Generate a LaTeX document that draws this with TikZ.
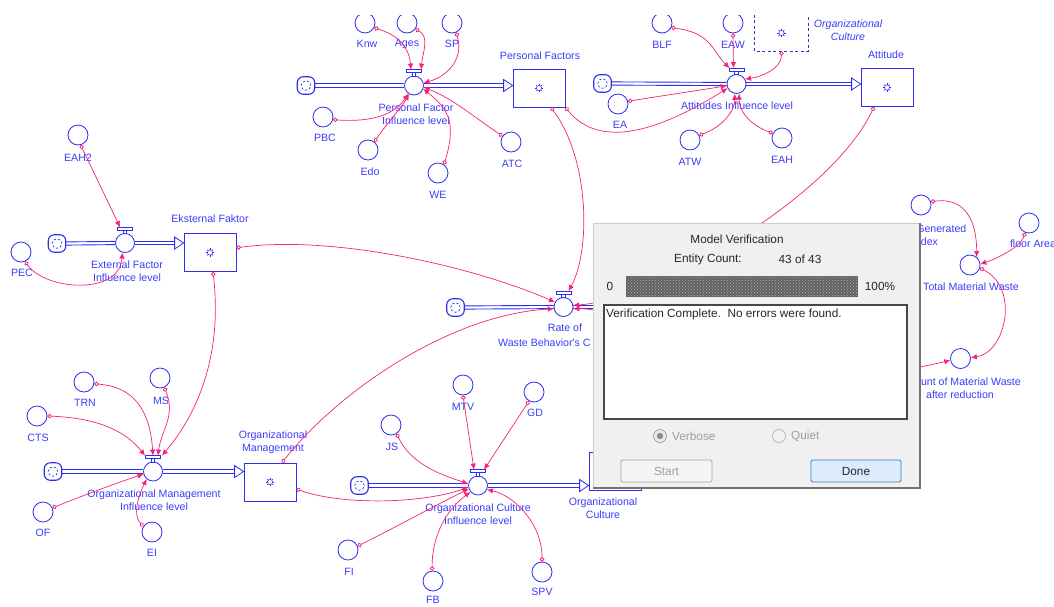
\documentclass[tikz,border=0pt]{standalone}
\usepackage{fontspec}
\setmainfont{Liberation Sans}
\newfontfamily\libsans{Liberation Sans}
\usetikzlibrary{arrows.meta,calc,patterns}
\definecolor{blueC}{RGB}{45,45,240}
\definecolor{blueL}{RGB}{60,60,250}
\definecolor{pinkC}{RGB}{245,35,120}
\definecolor{dlgbg}{RGB}{240,240,240}
\definecolor{btnblue}{RGB}{60,127,177}
\definecolor{btnfill}{RGB}{220,236,252}
\newcommand\lblfont{\libsans\fontsize{10.6pt}{13.5pt}\selectfont}
\newcommand\dlgfont{\libsans\fontsize{11.8pt}{14pt}\selectfont}
\tikzset{
  aux/.style={circle, draw=blueC, line width=0.8pt, minimum size=20pt, inner sep=0pt, fill=white},
  valve/.style={circle, draw=blueC, line width=0.8pt, minimum size=19pt, inner sep=0pt, fill=white},
  stocksym/.style={path picture={
      \coordinate (pp) at (path picture bounding box.center);
      \draw[blueC,line width=0.5pt] (pp) circle (2.6pt);
      \foreach \a in {0,45,...,315}{\draw[blueC,line width=0.5pt] ($(pp)+({2.6*cos(\a)},{2.6*sin(\a)})$) -- ($(pp)+({4.3*cos(\a)},{4.3*sin(\a)})$);}
  }},
  stock/.style={rectangle, draw=blueC, line width=0.8pt, minimum width=52pt, minimum height=38pt, inner sep=0pt, fill=white, stocksym},
  ghostbox/.style={rectangle, minimum width=53pt, minimum height=36pt, inner sep=0pt, stocksym},
  cloudn/.style={rectangle, rounded corners=6pt, draw=blueC, line width=1.1pt, minimum size=17.5pt, inner sep=0pt, fill=white,
     path picture={\draw[blueC,line width=0.7pt,dash pattern=on 2.2pt off 2pt] (path picture bounding box.center) circle (4.8pt);}},
  lbl/.style={text=blueL, font=\lblfont, align=center, inner sep=0pt},
  conn/.style={draw=pinkC, line width=0.7pt, arrows={Circle[open,length=4.5pt,width=4.5pt,line width=0.8pt]-Latex[length=6pt,width=5.5pt]}},
  pipeln/.style={draw=blueC, line width=0.9pt},
  dtxt/.style={text=black!85, font=\dlgfont, inner sep=0pt},
  dgray/.style={text=black!38, font=\dlgfont, inner sep=0pt},
}
\newcommand\mkhandle[1]{%
  \draw[blueC,line width=0.7pt,fill=white] ($(#1.north)+(-1.8,0.5)$) rectangle ($(#1.north)+(1.8,-3)$);
  \draw[blueC,line width=0.7pt,fill=white] ($(#1.north)+(-7.5,-3)$) rectangle ($(#1.north)+(7.5,-6)$);
  \coordinate (#1h) at ($(#1.north)+(0,-6)$);}
% double pipe between two named points
\newcommand\pipeline[2]{%
  \draw[pipeln] ($(#1)+(0,-1.6)$) -- ($(#2)+(0,-1.6)$);
  \draw[pipeln] ($(#1)+(0,1.6)$) -- ($(#2)+(0,1.6)$);}
\newcommand\mkflow[3]{%
  \coordinate (#3in) at (#3.west |- #2.east);
  \coordinate (#3pe) at ($(#3in)+(-8,0)$);
  \pipeline{#1.east}{#2.west}
  \pipeline{#2.east}{#3pe}
  \draw[blueC,line width=0.8pt,fill=white] ($(#3in)+(-9,-6)$) -- (#3in) -- ($(#3in)+(-9,6)$) -- cycle;}
\begin{document}
\begin{tikzpicture}[x=1pt,y=-1pt]
\useasboundingbox (0,0) rectangle (1054,606);
\fill[white] (0,0) rectangle (1054,606);
\begin{scope}
\clip (0,15) rectangle (1054,606);
% ---------- clouds, valves, stocks
\node[cloudn] (cpf) at (306,85.5) {};
\node[cloudn] (cat) at (602.5,83.5) {};
\node[cloudn] (cex) at (57,243.5) {};
\node[cloudn] (crw) at (455.5,307.5) {};
\node[cloudn] (com) at (53,471.5) {};
\node[cloudn] (coc) at (359.5,485.5) {};
\node[valve] (pfv) at (414,85.5) {};
\node[valve] (atv) at (736.5,84) {};
\node[valve] (efv) at (125,243) {};
\node[valve] (rwv) at (563.5,307) {};
\node[valve] (omv) at (153,471.5) {};
\node[valve] (ocv) at (478,485.5) {};
\node[stock] (pfs) at (539,88) {};
\node[stock] (att) at (887,87.5) {};
\node[stock] (eks) at (210,252.5) {};
\node[stock] (orgm) at (270,482) {};
\node[stock] (orgc) at (615,471) {};
\node[ghostbox] (ghost) at (781.5,33) {};
\draw[blueC,line width=0.8pt,dash pattern=on 3pt off 2.5pt] (ghost.north west) -- (ghost.south west) -- (ghost.south east) -- (ghost.north east);
% flows
\mkflow{cpf}{pfv}{pfs}
\mkflow{cat}{atv}{att}
\mkflow{cex}{efv}{eks}
\mkflow{com}{omv}{orgm}
\mkflow{coc}{ocv}{orgc}
\pipeline{crw.east}{rwv.west}
\coordinate (rwout) at (650,307);
\pipeline{rwv.east}{rwout}
\mkhandle{pfv}\mkhandle{atv}\mkhandle{efv}\mkhandle{rwv}\mkhandle{omv}\mkhandle{ocv}
% ---------- auxiliaries
\node[aux] (knw) at (365,23) {};
\node[aux] (ages) at (407,23) {};
\node[aux] (sp) at (452,23) {};
\node[aux] (pbc) at (323,117) {};
\node[aux] (edo) at (368,150) {};
\node[aux] (we) at (438,173) {};
\node[aux] (atc) at (511,142) {};
\node[aux] (blf) at (662,23) {};
\node[aux] (eaw) at (733,23) {};
\node[aux] (ea) at (618,104) {};
\node[aux] (atw) at (690,140) {};
\node[aux] (eah) at (782,138) {};
\node[aux] (eah2) at (78,135) {};
\node[aux] (pec) at (21,252) {};
\node[aux] (trn) at (84,382) {};
\node[aux] (ms) at (160,378) {};
\node[aux] (cts) at (37,416) {};
\node[aux] (of) at (43,512) {};
\node[aux] (ei) at (152,532) {};
\node[aux] (mtv) at (463,385) {};
\node[aux] (gd) at (534,392) {};
\node[aux] (js) at (391,425) {};
\node[aux] (fi) at (348,550) {};
\node[aux] (fb) at (433,581) {};
\node[aux] (spv) at (542,572) {};
\node[aux] (wgi) at (921,205) {};
\node[aux] (flr) at (1029,223) {};
\node[aux] (tmw) at (970,265) {};
\node[aux] (amw) at (960.5,358.5) {};
% ---------- labels
\node[lbl] (lknw) at (367,44) {Knw};
\node[lbl] (lages) at (407,44) {Ages};
\node[lbl] (lsp) at (452,44) {SP};
\node[lbl] (lpfv) at (416,114) {Personal Factor\\Influence level};
\node[lbl] (lpfs) at (540,56) {Personal Factors};
\node[lbl] (lpbc) at (325,138) {PBC};
\node[lbl] (ledo) at (370,172) {Edo};
\node[lbl] (lwe) at (438,195) {WE};
\node[lbl] (latc) at (512,164) {ATC};
\node[lbl] (lblf) at (662,45) {BLF};
\node[lbl] (leaw) at (733,45) {EAW};
\node[lbl,font=\lblfont\itshape] (lghost) at (848,30) {Organizational\\Culture};
\node[lbl] (latt) at (886,55) {Attitude};
\node[lbl] (latv) at (737,106) {Attitudes Influence level};
\node[lbl] (lea) at (620,125) {EA};
\node[lbl] (latw) at (690,162) {ATW};
\node[lbl] (leah) at (782,160) {EAH};
\node[lbl] (leah2) at (78,158) {EAH2};
\node[lbl] (lpec) at (22,273) {PEC};
\node[lbl] (lefv) at (127,271) {External Factor\\Influence level};
\node[lbl] (leks) at (210,219) {Eksternal Faktor};
\node[lbl] (lrw1) at (565,328) {Rate of};
\node[lbl,anchor=west] (lrw2) at (498,343) {Waste Behavior's C};
\node[lbl] (ltrn) at (85,403) {TRN};
\node[lbl] (lms) at (161,401) {MS};
\node[lbl] (lcts) at (38,438) {CTS};
\node[lbl] (lof) at (43,533) {OF};
\node[lbl] (lei) at (152,553) {EI};
\node[lbl] (lomv) at (154,500) {Organizational Management\\Influence level};
\node[lbl] (lorgm) at (273,442) {Organizational\\Management};
\node[lbl] (lmtv) at (463,407) {MTV};
\node[lbl] (lgd) at (535,413) {GD};
\node[lbl] (ljs) at (392,447) {JS};
\node[lbl] (lfi) at (349,572) {FI};
\node[lbl] (lfb) at (433,600) {FB};
\node[lbl] (lspv) at (542,592) {SPV};
\node[lbl] (locv) at (478,514) {Organizational Culture\\Influence level};
\node[lbl] (lorgc) at (603,508) {Organizational\\Culture};
\node[lbl] (lwgi) at (925,235) {Waste Generated\\Index};
\node[lbl] (lflr) at (1033,244) {floor Area};
\node[lbl] (ltmw) at (971,287) {Total Material Waste};
\node[lbl] (lamw) at (960,388) {Amount of Material Waste\\after reduction};
% ---------- connectors: personal factor
\draw[conn] (knw.-27) .. controls +(25,8) and +(-2,-22) .. ($(pfvh)+(-3,0)$);
\draw[conn] (ages.-35) .. controls +(14,8) and +(2,-18) .. ($(pfvh)+(7,0)$);
\draw[conn] (sp.-66) .. controls +(8,28) and +(22,-6) .. (pfv.15);
\draw[conn] (pbc.-15) .. controls +(45,3) and +(-12,18) .. (pfv.-125);
\draw[conn] (edo.52) .. controls +(10,-15) and +(-8,14) .. (pfv.-120);
\draw[conn] (we.55) .. controls +(14,-45) and +(22,18) .. (pfv.-20);
\draw[conn] (atc.145) .. controls +(-30,-20) and +(30,12) .. (pfv.-10);
% attitudes
\draw[conn] (blf.-27) .. controls +(40,5) and +(-18,-18) .. ($(atvh)+(-7,0)$);
\draw[conn] (eaw.south) -- ($(atvh)+(-3,0)$);
\draw[conn] (ghost.south) .. controls +(0,18) and +(15,-2) .. (atv.30);
\draw[conn] (ea.15) .. controls +(30,-5) and +(-30,5) .. (atv.-170);
\draw[conn] (pfs.south east) .. controls +(35,43) and +(-67,42) .. (atv.-155);
\draw[conn] (atw.27) .. controls +(22,-8) and +(0,18) .. (atv.-100);
\draw[conn] (eah.153) .. controls +(-22,-8) and +(0,18) .. (atv.-75);
% rate of waste behaviour
\draw[conn] (eks.10) .. controls +(94,-13) and +(-85,-37) .. (rwv.150);
\draw[conn] ($(orgm.north)+(12,0)$) .. controls +(58,-73) and +(-103,6) .. (rwv.-170);
\draw[conn] ($(pfs.south)+(12,0)$) .. controls +(39,53) and +(22,-40) .. ($(rwvh)+(5,0)$);
\draw[conn] ($(att.south)+(-13,0)$) .. controls +(-44,93) and +(78,-5) .. (rwv.10);
\draw[conn] (orgc.north) .. controls +(0,-100) and +(60,0) .. (rwv.-10);
% external
\draw[conn] (eah2.-75) -- ($(efvh)+(-5,0)$);
\draw[conn] (pec.-66) .. controls +(20,29) and +(-3,43) .. (efv.-105);
\draw[conn] ($(eks.south)+(3,0)$) .. controls +(9,78) and +(39,-46) .. ($(omvh)+(9,0)$);
% organizational management
\draw[conn] (trn.-10) .. controls +(40,3) and +(-3,-45) .. (omvh);
\draw[conn] (ms.-66) .. controls +(12,28) and +(3,-25) .. ($(omvh)+(5,0)$);
\draw[conn] (cts.0) .. controls +(50,2) and +(-20,-25) .. ($(omvh)+(-8,0)$);
\draw[conn] (of.24) .. controls +(30,-12) and +(-30,10) .. (omv.-165);
\draw[conn] (ei.146) .. controls +(-12,-12) and +(-6,12) .. (omv.-130);
% organizational culture
\draw[conn] (mtv.south) -- ($(ocvh)+(-4,0)$);
\draw[conn] (gd.-119) -- ($(ocvh)+(6,0)$);
\draw[conn] (js.-58) .. controls +(15,30) and +(-30,-10) .. (ocv.170);
\draw[conn] ($(orgm.east)+(0,7)$) .. controls +(44,16) and +(-48,17) .. (ocv.-170);
\draw[conn] (fi.22) .. controls +(40,-20) and +(-40,20) .. (ocv.-160);
\draw[conn] (fb.95) .. controls +(0,-40) and +(-20,15) .. (ocv.-140);
\draw[conn] (spv.90) .. controls +(0,-40) and +(25,5) .. (ocv.-25);
% material waste
\draw[conn] (wgi.18) .. controls +(35,-5) and +(0,-35) .. (tmw.50);
\draw[conn] (flr.-112) .. controls +(-5,15) and +(15,-5) .. (tmw.5);
\draw[conn] (tmw.-17) .. controls +(40,20) and +(35,-5) .. (amw.5);
\coordinate (hidB) at (880,378);
\draw[conn] (hidB) .. controls +(30,-10) and +(-20,5) .. (amw.-170);
\end{scope}
% ---------- dialog
\fill[dlgbg] (593,223) rectangle (920,488);
\draw[black!20,line width=0.8pt] (593,488) -- (593,223) -- (920,223);
\draw[black!55,line width=1.4pt] (920,223) -- (920,488) -- (593,488);
\node[dtxt] (dtitle) at (737,239) {Model Verification};
\node[dtxt] (dent) at (708,259) {Entity Count:};
\node[dtxt] (dcnt) at (800,259) {43 of 43};
\node[dtxt] (dzero) at (610,286) {0};
\fill[black!62] (626,276) rectangle (858,297);
\fill[pattern=crosshatch dots, pattern color=black!30] (626,276) rectangle (858,297);
\node[dtxt] (dpct) at (880,286) {100\%};
\draw[black!72,line width=1.2pt,fill=white] (604,305) rectangle (907,419);
\node[dtxt,anchor=north west] (dmsg) at (606,309) {Verification Complete.\ \ No errors were found.};
\draw[black!40,line width=0.7pt,fill=black!8] (660,436) circle (6.5);
\fill[black!45] (660,436) circle (3.2);
\node[dgray,anchor=west] (dverb) at (672,436) {Verbose};
\draw[black!30,line width=0.7pt,fill=black!5] (779,436) circle (6.5);
\node[dgray,anchor=west] (dquiet) at (791,436) {Quiet};
\draw[black!35,line width=0.8pt,rounded corners=1.5pt,fill=black!4] (621,460) rectangle (712,482);
\node[dgray] (dstart) at (666.5,471) {Start};
\draw[btnblue,line width=0.9pt,rounded corners=1.5pt,fill=btnfill] (811,460) rectangle (901,482);
\node[dtxt] (ddone) at (856,471) {Done};
\end{tikzpicture}
\end{document}
